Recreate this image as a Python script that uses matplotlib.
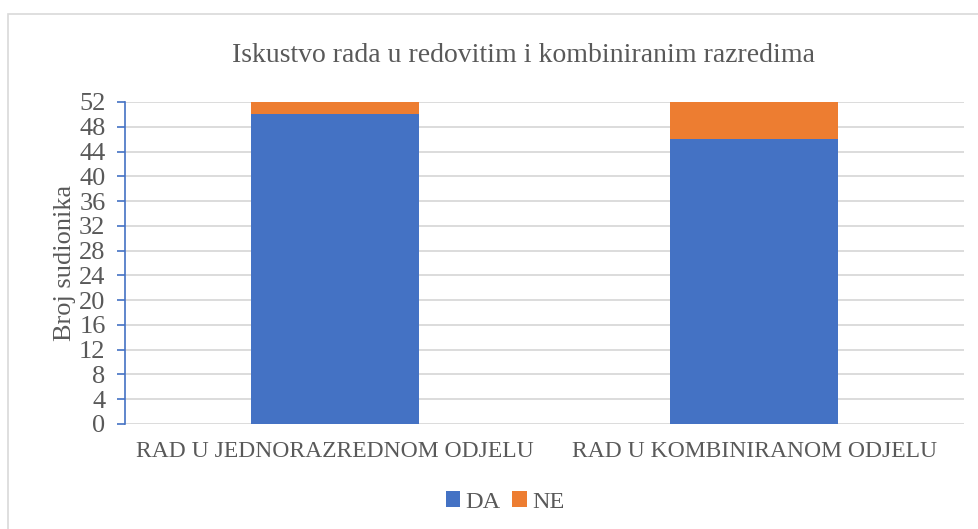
import matplotlib
matplotlib.use('Agg')
from matplotlib import pyplot as plt
from matplotlib.patches import Rectangle

plt.rcParams['font.family'] = ['Liberation Serif', 'DejaVu Serif']

categories = ['RAD U JEDNORAZREDNOM ODJELU', 'RAD U KOMBINIRANOM ODJELU']
da = [50, 46]
ne = [2, 6]
yticks = list(range(0, 53, 4))

text_color = '#595959'
W, H = 979, 529

fig = plt.figure(figsize=(W / 100, H / 100), dpi=100)
fig.patch.set_facecolor('white')
# light frame around the chart area (right and bottom edges fall outside the image)
fig.patches.append(Rectangle((8 / W, -0.1), 1.2, 1.1 - 14 / H, transform=fig.transFigure,
                             fill=False, edgecolor='#d9d9d9', linewidth=1.2))

ax = fig.add_axes([125 / W, (H - 424) / H, (964 - 125) / W, (424 - 102) / H])
x = list(range(len(categories)))
ax.bar(x, da, width=0.4, color='#4472C4', label='DA', zorder=3)
ax.bar(x, ne, width=0.4, bottom=da, color='#ED7D31', label='NE', zorder=3)

ax.set_xlim(-0.5, 1.5)
ax.set_ylim(0, 52)
ax.set_yticks(yticks)
ax.set_xticks(x)
ax.set_xticklabels(categories)
ax.grid(axis='y', color='#d9d9d9', linewidth=1.3, zorder=1)
ax.set_axisbelow(True)

for s in ['top', 'right', 'bottom']:
    ax.spines[s].set_visible(False)
ax.spines['left'].set_color('#4472C4')
ax.spines['left'].set_linewidth(1.2)
ax.tick_params(axis='y', colors='#4472C4', labelcolor=text_color, length=6,
               width=1.2, labelsize=19, pad=8)
ax.tick_params(axis='x', length=0, labelcolor=text_color, labelsize=17, pad=12)

ax.set_ylabel('Broj sudionika', fontsize=19, color=text_color, labelpad=2)
fig.text(524 / W, 1 - 55 / H, 'Iskustvo rada u redovitim i kombiniranim razredima',
         ha='center', va='center', fontsize=20, color=text_color)

fig.legend(loc='center', bbox_to_anchor=(505 / W, 1 - 502 / H), ncol=2, frameon=False,
           fontsize=17.5, labelcolor=text_color, handlelength=0.6, handleheight=0.6,
           handletextpad=0.2, columnspacing=0.5)

plt.savefig('out.png', dpi=100, facecolor=fig.get_facecolor())
